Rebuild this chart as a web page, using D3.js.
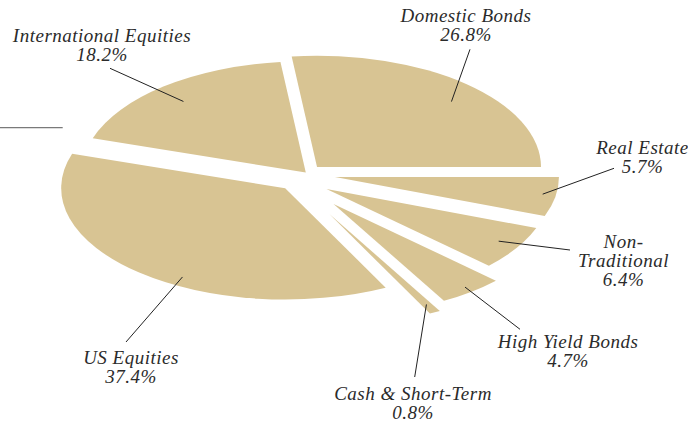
<!DOCTYPE html>
<html>
<head>
<meta charset="utf-8">
<script src="https://cdn.jsdelivr.net/npm/d3@7/dist/d3.min.js"></script>
<style>
  html, body { margin: 0; padding: 0; background: #fff; }
  svg { display: block; }
  .lbl { font-family: "Liberation Serif", "Times New Roman", serif; font-style: italic; font-size: 19px; letter-spacing: 0.5px; fill: #2b2b2b; }
</style>
</head>
<body>
<script>
// Asset allocation shares (percent), in drawing order clockwise from the top
const categories = ["Domestic Bonds", "Real Estate", "Non-Traditional", "High Yield Bonds",
                    "Cash & Short-Term", "US Equities", "International Equities"];
const shares = [26.8, 5.7, 6.4, 4.7, 0.8, 37.4, 18.2];
// Label text lines for each category
const labelNames = [["Domestic Bonds"], ["Real Estate"], ["Non-", "Traditional"], ["High Yield Bonds"],
                    ["Cash & Short-Term"], ["US Equities"], ["International Equities"]];

// Layout: slice explosion as [distance px, direction as fraction across the slice]
const pull = [[12.5, 0.73], [29.5, 0.43], [26.5, 0.79], [41.9, 0.30], [47.8, 0.0], [25.9, 0.59], [0, 0.5]];
// Callouts: label centre x, first baseline y, leader outer end x/y,
// leader tip as [fraction across the slice, fraction of radius]
const callouts = [
  { x: 466,   y: 22,    lx: 470,   ly: 49.3,  tip: [0.54, 0.84] },
  { x: 642.5, y: 154,   lx: 614,   ly: 168.3, tip: [0.46, 0.94] },
  { x: 623.5, y: 248,   lx: 570,   ly: 250,   tip: [0.47, 0.90] },
  { x: 568,   y: 348,   lx: 520,   ly: 329.3, tip: [0.49, 0.95] },
  { x: 413,   y: 399.7, lx: 414.7, ly: 377,   tip: [0.50, 0.92] },
  { x: 131,   y: 363.7, lx: 126,   ly: 342,   tip: [0.42, 0.92] },
  { x: 102,   y: 41.5,  lx: 110,   ly: 68.3,  tip: [0.48, 0.84] }
];

const W = 688, H = 423;
const R = 224, k = 0.497;          // radius and vertical squash of the tilted pie
const cx = 305.8, cy = 172.5;      // pie centre
const fill = "#d8c493";
const lineHeight = 19;

const svg = d3.select("body").append("svg").attr("width", W).attr("height", H);

// decorative rule at the left edge
svg.append("line")
  .attr("x1", 0).attr("x2", 62.7).attr("y1", 127.7).attr("y2", 127.7)
  .attr("stroke", "#7a7a7a").attr("stroke-width", 1.3);

const start = -6.5 * Math.PI / 180;
const pie = d3.pie().sort(null).value(d => d).startAngle(start).endAngle(start + 2 * Math.PI);
const arcs = pie(shares);
const arc = d3.arc().innerRadius(0).outerRadius(R);

// apex (pulled-out centre) of a slice
function apex(d, i) {
  const [dist, f] = pull[i];
  const m = d.startAngle + f * (d.endAngle - d.startAngle);
  return [cx + dist * Math.sin(m), cy - dist * Math.cos(m)];
}

svg.append("g").selectAll("path")
  .data(arcs)
  .join("path")
  .attr("d", arc)
  .attr("fill", fill)
  .attr("transform", (d, i) => {
    const [ax, ay] = apex(d, i);
    return `translate(${ax},${ay}) scale(1,${k})`;
  });

// leader lines
svg.append("g").selectAll("line")
  .data(arcs)
  .join("line")
  .each(function (d, i) {
    const c = callouts[i];
    const [ax, ay] = apex(d, i);
    const a = d.startAngle + c.tip[0] * (d.endAngle - d.startAngle);
    const r = c.tip[1] * R;
    d3.select(this)
      .attr("x1", c.lx).attr("y1", c.ly)
      .attr("x2", ax + r * Math.sin(a)).attr("y2", ay - k * r * Math.cos(a));
  })
  .attr("stroke", "#222").attr("stroke-width", 1);

// labels
const fmt = d => d3.format(".1f")(d) + "%";
const lbl = svg.append("g").selectAll("text")
  .data(arcs)
  .join("text")
  .attr("class", "lbl")
  .attr("text-anchor", "middle")
  .attr("x", (d, i) => callouts[i].x)
  .attr("y", (d, i) => callouts[i].y);

lbl.each(function (d, i) {
  const lines = labelNames[i].concat([fmt(shares[i])]);
  d3.select(this).selectAll("tspan")
    .data(lines)
    .join("tspan")
    .attr("x", callouts[i].x)
    .attr("dy", (t, j) => j === 0 ? 0 : lineHeight)
    .text(t => t);
});
</script>
</body>
</html>
